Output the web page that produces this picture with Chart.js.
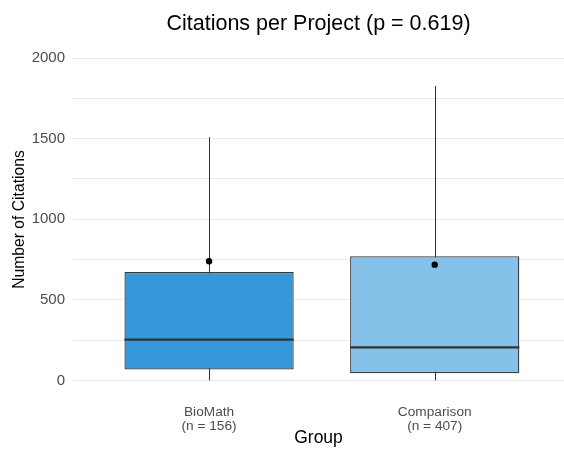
<!DOCTYPE html>
<html>
<head>
<meta charset="utf-8">
<script src="https://cdn.jsdelivr.net/npm/chart.js@4.4.1/dist/chart.umd.min.js"></script>
<style>
  html, body { margin: 0; padding: 0; background: #fff; }
  #wrap { width: 564px; height: 455px; }
</style>
</head>
<body>
<div id="wrap"><canvas id="boxChart"></canvas></div>
<script>
// values
var groups = ["BioMath", "Comparison"];
var groupN = [156, 407];
var whiskerLow = [0, 0];
var q1 = [68, 45];
var medians = [253, 205];
var q3 = [672, 770];
var whiskerHigh = [1509, 1826];
var means = [739, 718];
var boxColors = ["#3498db", "#85c1e9"];
var yTicks = [0, 250, 500, 750, 1000, 1250, 1500, 1750, 2000];

var boxData = groups.map(function (g, i) { return { x: i + 1, y: [q1[i], q3[i]] }; });
var meanData = groups.map(function (g, i) { return { x: i + 1, y: means[i] }; });

var fontFam = 'Liberation Sans, Arial, sans-serif';

// whiskers behind the boxes, medians on top of them
var boxExtras = {
  id: 'boxExtras',
  beforeDatasetsDraw: function (chart) {
    var ctx = chart.ctx, xs = chart.scales.x, ys = chart.scales.y;
    ctx.save();
    ctx.strokeStyle = '#333333';
    ctx.lineWidth = 1;
    for (var i = 0; i < groups.length; i++) {
      var px = Math.round(xs.getPixelForValue(i + 1)) + 0.5;
      ctx.beginPath();
      ctx.moveTo(px, ys.getPixelForValue(whiskerLow[i]));
      ctx.lineTo(px, ys.getPixelForValue(whiskerHigh[i]));
      ctx.stroke();
    }
    ctx.restore();
  },
  afterDatasetDraw: function (chart, args) {
    if (args.index !== 1) return;
    var ctx = chart.ctx, ys = chart.scales.y;
    var meta = chart.getDatasetMeta(1);
    ctx.save();
    ctx.strokeStyle = '#333333';
    ctx.lineWidth = 2.2;
    meta.data.forEach(function (bar, i) {
      var py = ys.getPixelForValue(medians[i]);
      ctx.beginPath();
      ctx.moveTo(bar.x - bar.width / 2, py);
      ctx.lineTo(bar.x + bar.width / 2, py);
      ctx.stroke();
    });
    ctx.restore();
  }
};

var ctx = document.getElementById("boxChart").getContext('2d');
var boxChart = new Chart(ctx, {
  data: {
    datasets: [{
      type: 'scatter',
      order: 0,
      data: meanData,
      pointRadius: 3.2,
      pointBackgroundColor: '#000000',
      pointBorderWidth: 0
    }, {
      type: 'bar',
      order: 1,
      data: boxData,
      backgroundColor: boxColors,
      borderColor: '#3a3a3a',
      borderWidth: 1.3,
      borderSkipped: false,
      categoryPercentage: 1,
      barPercentage: 0.75
    }]
  },
  options: {
    responsive: true,
    maintainAspectRatio: false,
    animation: false,
    layout: { autoPadding: false, padding: { left: 10.6, right: 0, top: 0, bottom: 0 } },
    plugins: {
      legend: { display: false },
      tooltip: { enabled: false },
      title: {
        display: true,
        fullSize: false,
        text: 'Citations per Project (p = 0.619)',
        color: '#000000',
        font: { family: fontFam, size: 21.5, weight: 'normal', lineHeight: 1.2 },
        padding: { top: 11.4, bottom: 6.8 }
      }
    },
    scales: {
      x: {
        type: 'linear',
        offset: false,
        min: 0.397,
        max: 2.573,
        grid: { display: false, drawTicks: false },
        border: { display: false },
        afterBuildTicks: function (scale) {
          scale.ticks = groups.map(function (g, i) { return { value: i + 1 }; });
        },
        ticks: {
          color: '#4d4d4d',
          font: { family: fontFam, size: 13.7, lineHeight: 1.05 },
          padding: 9.7,
          maxRotation: 0,
          callback: function (v) {
            var i = Math.round(v) - 1;
            return [groups[i], '(n = ' + groupN[i] + ')'];
          }
        },
        title: {
          display: true,
          text: 'Group',
          color: '#000000',
          font: { family: fontFam, size: 17.5, lineHeight: 1.0 },
          padding: { top: -14.2, bottom: 8.5 }
        }
      },
      y: {
        min: -90.7,
        max: 2087,
        grid: { color: '#ebebeb', lineWidth: 1, drawTicks: false },
        border: { display: false },
        afterBuildTicks: function (scale) {
          scale.ticks = yTicks.map(function (v) { return { value: v }; });
        },
        ticks: {
          color: '#4d4d4d',
          font: { family: fontFam, size: 15 },
          padding: 8,
          callback: function (v) { return v % 500 === 0 ? v : ''; }
        },
        title: {
          display: true,
          text: 'Number of Citations',
          color: '#000000',
          font: { family: fontFam, size: 15.7, lineHeight: 1.2 },
          padding: { top: 0, bottom: -5.8 }
        }
      }
    }
  },
  plugins: [boxExtras]
});
</script>
</body>
</html>
